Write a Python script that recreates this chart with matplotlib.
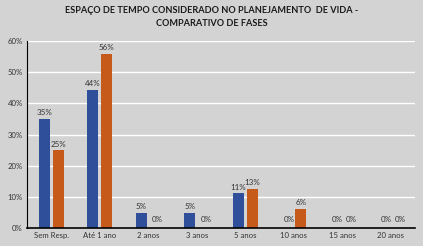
import matplotlib
matplotlib.use("Agg")
import matplotlib.pyplot as plt
import numpy as np

categories = ["Sem Resp.", "Até 1 ano", "2 anos", "3 anos", "5 anos", "10 anos", "15 anos", "20 anos"]
fase1 = [35, 44.4, 4.9, 4.9, 11.1, 0, 0, 0]
fase2 = [25, 56, 0, 0, 12.6, 6.2, 0, 0]
yticks = [0, 10, 20, 30, 40, 50, 60]
title = "ESPAÇO DE TEMPO CONSIDERADO NO PLANEJAMENTO  DE VIDA -\nCOMPARATIVO DE FASES"

plt.rcParams['font.family'] = ['Lato', 'DejaVu Sans']
bg = "#d3d3d3"
fig = plt.figure(figsize=(4.23, 2.46), dpi=100, facecolor=bg)
ax = fig.add_axes([0.064, 0.073, 0.917, 0.760], facecolor=bg)

x = np.arange(len(categories))
w = 0.23
off = 0.145
b1 = ax.bar(x - off, fase1, w, color="#2f4f9b", zorder=3)
b2 = ax.bar(x + off, fase2, w, color="#c65a1a", zorder=3)

for bars, vals in ((b1, fase1), (b2, fase2)):
    for r, v in zip(bars, vals):
        if v == 0:
            ax.text(r.get_x() + r.get_width() / 2 + 0.05, 1.5, f"{round(v)}%", ha="center", va="bottom",
                    fontsize=5.8, color="#333333")
        else:
            ax.text(r.get_x() + r.get_width() / 2, v + 0.8, f"{round(v)}%", ha="center", va="bottom",
                    fontsize=5.8, color="#333333")

ax.set_xlim(-0.5, len(categories) - 0.5)
ax.set_ylim(0, 60)
ax.set_yticks(yticks)
ax.set_yticklabels([f"{t}%" for t in yticks])
ax.set_xticks(x)
ax.set_xticklabels(categories)
ax.tick_params(axis="both", length=0, labelsize=5.6, colors="#333333", pad=3)
ax.yaxis.grid(True, color="white", linewidth=1.0, zorder=0)
for s in ("top", "right"):
    ax.spines[s].set_visible(False)
ax.spines["left"].set_color("black")
ax.spines["left"].set_linewidth(0.8)
ax.spines["bottom"].set_color("black")
ax.spines["bottom"].set_linewidth(1.2)
ax.spines["bottom"].set_zorder(4)

fig.text(0.5, 0.93, title, ha="center", va="center", fontsize=6.6, fontweight="bold",
         color="#1a1a1a", linespacing=1.5)

fig.savefig("out.png", dpi=100, facecolor=bg)
